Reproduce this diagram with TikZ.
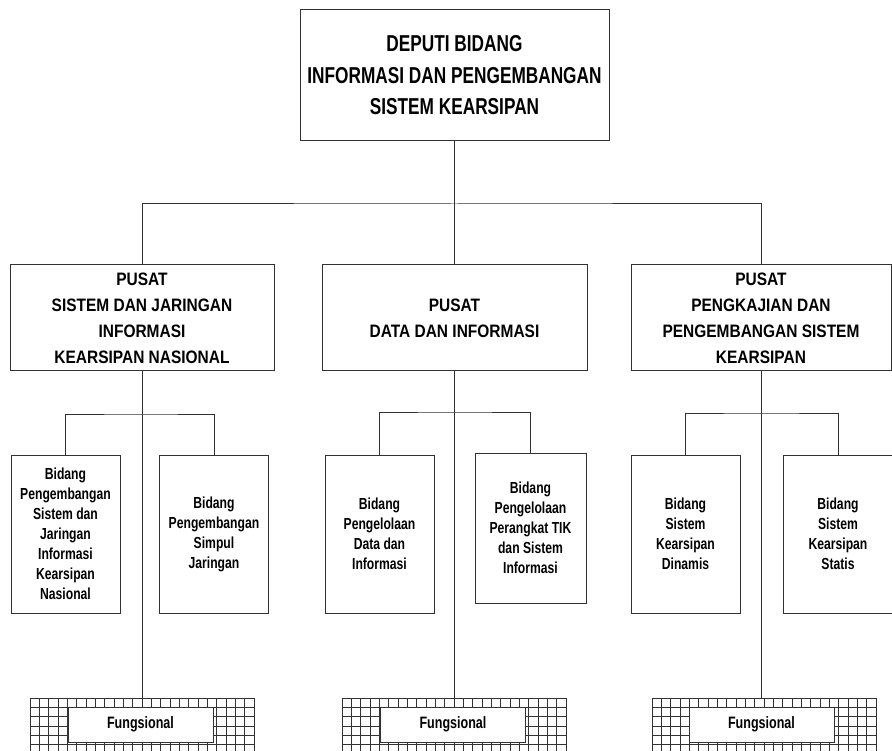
\documentclass[tikz,border=0pt]{standalone}
\usepackage{fontspec}
\setmainfont{Liberation Sans}
\newfontfamily\headfont[FakeStretch=0.75]{Liberation Sans}
\newfontfamily\narrowfont[FakeStretch=0.86]{Liberation Sans}
\newfontfamily\bidangfont[FakeStretch=0.76]{Liberation Sans}
\usetikzlibrary{positioning,calc}
\definecolor{linegray}{RGB}{50,50,50}

\begin{document}
\begin{tikzpicture}[x=1pt, y=-1pt,
    orgline/.style={draw=linegray, line width=1pt},
    gridline/.style={draw=linegray, line width=0.8pt},
    unitbox/.style={draw=linegray, line width=1pt, fill=white, inner sep=0pt, align=center, text=black},
    deputibox/.style={unitbox, minimum width=309pt, minimum height=131pt, font=\headfont\bfseries\fontsize{23}{31.5}\selectfont},
    pusatbox/.style={unitbox, minimum height=106pt, font=\narrowfont\bfseries\fontsize{18}{26}\selectfont},
    bidangbox/.style={unitbox, minimum width=109pt, minimum height=158pt, font=\bidangfont\bfseries\fontsize{16}{20}\selectfont},
    fungbox/.style={unitbox, minimum width=145pt, minimum height=35pt, font=\bidangfont\bfseries\fontsize{16.5}{18}\selectfont},
    hatchbox/.style={draw=linegray, line width=0.8pt, minimum width=224pt, minimum height=80pt, inner sep=0pt,
        path picture={
            \foreach \k in {1,...,23}
                \draw[gridline] ($(path picture bounding box.north west)+(\k*9.333,0)$) -- ++(0,90);
            \foreach \k in {1,...,8}
                \draw[gridline] ($(path picture bounding box.north west)+(0,\k*9.3)$) -- ++(230,0);
        }}
]
    \useasboundingbox (0,0) rectangle (892,751);
    \clip (0,0) rectangle (892,751);
    \fill[white] (0,0) rectangle (892,751);

    % Deputi
    \node[deputibox] (deputi) at (454.5,75.5) {DEPUTI BIDANG\\INFORMASI DAN PENGEMBANGAN\\SISTEM KEARSIPAN};

    % Pusat
    \node[pusatbox, minimum width=264pt] (pusat1) at (142,318) {PUSAT\\SISTEM DAN JARINGAN\\INFORMASI\\KEARSIPAN NASIONAL};
    \node[pusatbox, minimum width=265pt] (pusat2) at (454.5,318) {PUSAT\\DATA DAN INFORMASI};
    \node[pusatbox, minimum width=260pt] (pusat3) at (761,318) {PUSAT\\PENGKAJIAN DAN\\PENGEMBANGAN SISTEM\\KEARSIPAN};

    \coordinate (bus) at (454.5,204);
    \draw[orgline] (deputi.south) -- (bus);
    \draw[orgline] (pusat1.north) |- (bus) -| (pusat3.north);
    \draw[orgline] (bus) -- (pusat2.north);

    % Fungsional
    \node[hatchbox] (hatch1) at (142,738) {};
    \node[hatchbox] (hatch2) at (454,738) {};
    \node[hatchbox] (hatch3) at (764,738) {};
    \node[fungbox] (fung1) at (140.5,724.5) {Fungsional};
    \node[fungbox] (fung2) at (453,724.5) {Fungsional};
    \node[fungbox] (fung3) at (761.5,724.5) {Fungsional};

    \draw[orgline] (pusat1.south) -- (pusat1.south |- hatch1.north);
    \draw[orgline] (pusat2.south) -- (pusat2.south |- hatch2.north);
    \draw[orgline] (pusat3.south) -- (pusat3.south |- hatch3.north);

    % Bidang
    \node[bidangbox] (bid1) at (65.5,534) {Bidang\\Pengembangan\\Sistem dan\\Jaringan\\Informasi\\Kearsipan\\Nasional};
    \node[bidangbox] (bid2) at (214,534) {Bidang\\Pengembangan\\Simpul\\Jaringan};
    \node[bidangbox] (bid3) at (379.5,534) {Bidang\\Pengelolaan\\Data dan\\Informasi};
    \node[bidangbox, minimum width=111pt, minimum height=150pt] (bid4) at (530.5,528) {Bidang\\Pengelolaan\\Perangkat TIK\\dan Sistem\\Informasi};
    \node[bidangbox] (bid5) at (685.5,534) {Bidang\\Sistem\\Kearsipan\\Dinamis};
    \node[bidangbox, minimum width=110pt] (bid6) at (838,534) {Bidang\\Sistem\\Kearsipan\\Statis};

    \coordinate (joint1) at (142,414);
    \coordinate (joint2) at (454.5,412);
    \coordinate (joint3) at (761,413);
    \draw[orgline] (bid1.north) |- (joint1) -| (bid2.north);
    \draw[orgline] (bid3.north) |- (joint2) -| (bid4.north);
    \draw[orgline] (bid5.north) |- (joint3) -| (bid6.north);
\end{tikzpicture}
\end{document}
